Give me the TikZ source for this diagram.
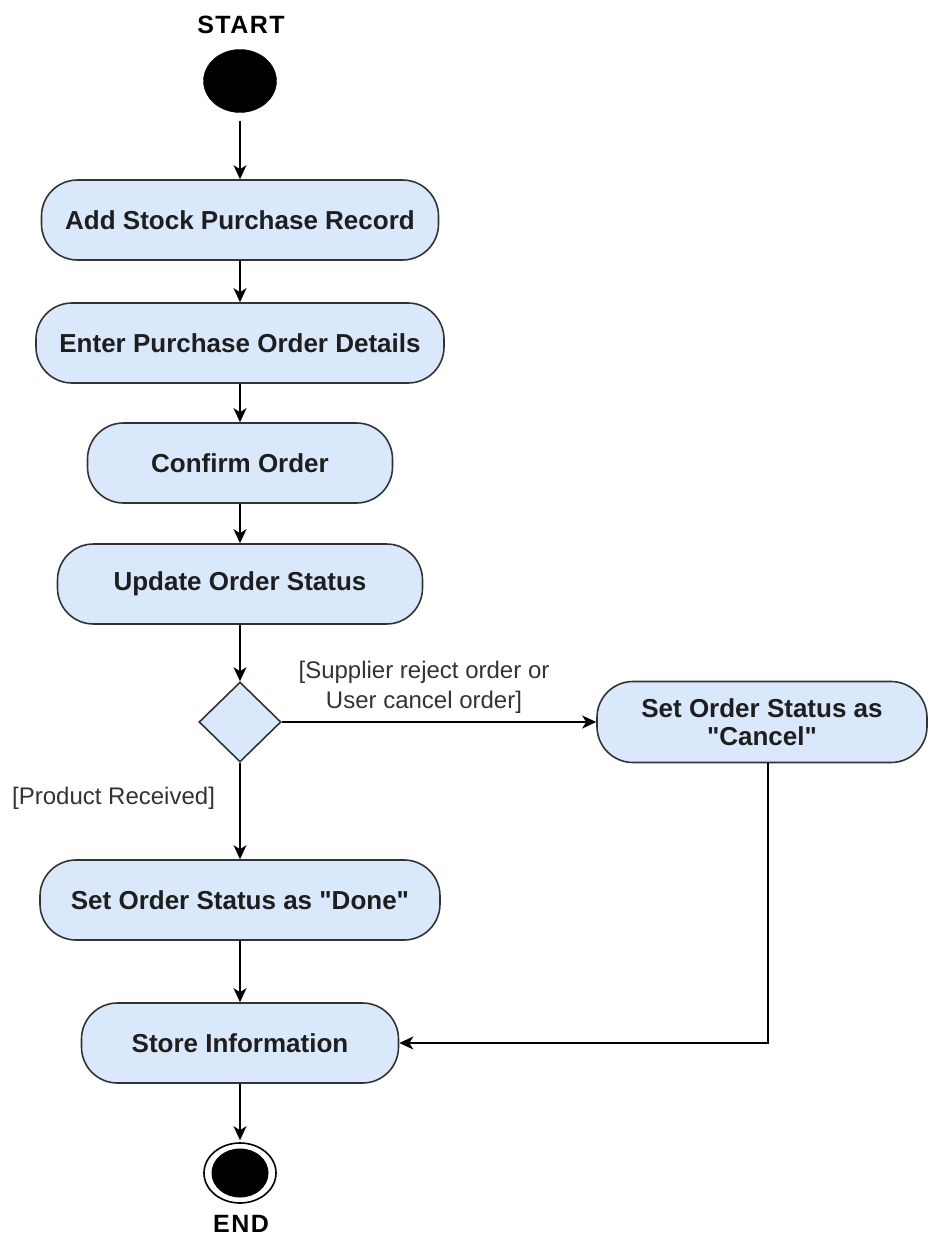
\documentclass[tikz,border=0pt]{standalone}
\usepackage{fontspec}
\setmainfont{Liberation Sans}[Ligatures=TeXOff]
\usetikzlibrary{shapes.geometric,arrows.meta}

\definecolor{actfill}{HTML}{DAE8FC}
\definecolor{actline}{HTML}{333333}
\definecolor{inktext}{HTML}{1E1E1E}
\definecolor{guardtext}{HTML}{333333}

\tikzset{
  activity/.style={draw=actline, fill=actfill, line width=1.6pt,
    rounded corners=36pt, minimum height=80pt, inner sep=0pt,
    text=inktext, align=center,
    font=\bfseries\fontsize{26}{28}\selectfont},
  decision/.style={draw=actline, fill=actfill, line width=1.6pt,
    diamond, inner sep=0pt, minimum width=82pt, minimum height=80pt},
  guard/.style={text=guardtext, align=center, inner sep=0pt,
    font=\fontsize{24}{30}\selectfont},
  terminal/.style={text=black, inner sep=0pt,
    font=\bfseries\fontsize{25}{26}\selectfont\addfontfeature{LetterSpace=6}},
  flow/.style={draw=black, line width=1.7pt,
    -{Stealth[length=14pt,width=13pt,inset=4pt]}},
}

\begin{document}
\begin{tikzpicture}[x=1pt, y=-1pt]
  \useasboundingbox (0,0) rectangle (928,1237);

  % start and end markers
  \node[terminal] (startlbl) at (241,25) {START};
  \node[ellipse, fill=black, draw=black, minimum width=73pt, minimum height=63pt,
        inner sep=0pt] (start) at (240,81) {};

  % activities down the main flow
  \node[activity, minimum width=397pt] (add)     at (240,220) {Add Stock Purchase Record};
  \node[activity, minimum width=408pt] (enter)   at (240,343) {Enter Purchase Order Details};
  \node[activity, minimum width=305pt] (confirm) at (240,463) {Confirm Order};
  \node[activity, minimum width=365pt] (update)  at (240,584) {Update Order Status};
  \node[decision] (dec) at (240,722) {};
  \node[activity, minimum width=330pt, minimum height=81pt] (cancel) at (762,722)
        {Set Order Status as\\"Cancel"};
  \node[activity, minimum width=400pt] (done)    at (240,900) {Set Order Status as "Done"};
  \node[activity, minimum width=317pt] (store)   at (240,1043) {Store Information};

  \node[ellipse, draw=black, fill=white, line width=1.6pt, minimum width=72pt,
        minimum height=60pt, inner sep=0pt] (finish) at (240,1173) {};
  \node[ellipse, fill=black, minimum width=57pt, minimum height=49pt,
        inner sep=0pt] (finishdot) at (finish.center) {};
  \node[terminal] (endlbl) at (241,1224) {END};

  % guard labels
  \node[guard] (rejectlbl) at (424,687) {[Supplier reject order or\\User cancel order]};
  \node[guard, anchor=west] (receivedlbl) at (12,798) {[Product Received]};

  % connectors
  \draw[flow, shorten <=8pt] (start) -- (add);
  \draw[flow] (add) -- (enter);
  \draw[flow] (enter) -- (confirm);
  \draw[flow] (confirm) -- (update);
  \draw[flow] (update) -- (dec);
  \draw[flow] (dec.east) -- (cancel.west);
  \draw[flow] (dec.south) -- (done.north);
  \draw[flow] (done) -- (store);
  \draw[flow] ([xshift=6pt]cancel.south) |- (store.east);
  \draw[flow, shorten >=2pt] (store) -- (finish);
\end{tikzpicture}
\end{document}
